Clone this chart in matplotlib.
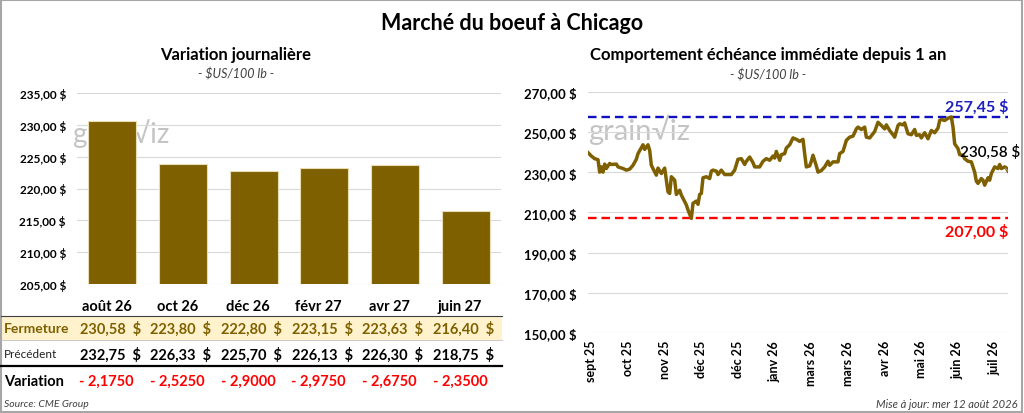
import matplotlib
matplotlib.use("Agg")
import matplotlib.pyplot as plt
from matplotlib.transforms import blended_transform_factory
from matplotlib.patches import Rectangle
from matplotlib.lines import Line2D

plt.rcParams['font.family'] = ['Lato', 'DejaVu Sans']

# --- donnees : variation journaliere ---
echeances = ['août 26', 'oct 26', 'déc 26', 'févr 27', 'avr 27', 'juin 27']
fermeture = [230.58, 223.80, 222.80, 223.15, 223.63, 216.40]
precedent = [232.75, 226.33, 225.70, 226.13, 226.30, 218.75]
variation = [-2.1750, -2.5250, -2.9000, -2.9750, -2.6750, -2.3500]

# --- donnees : echeance immediate depuis 1 an (jour de bourse, prix) ---
jours = [0, 2, 4, 6, 7, 8, 9, 10, 11, 13, 14, 17, 18, 21, 23, 25, 27, 29, 30, 33,
         34, 36, 37, 38, 41, 42, 44, 46, 48, 49, 50, 52, 53, 55, 56, 58, 59, 60, 62, 63,
         65, 66, 67, 68, 69, 71, 73, 74, 75, 77, 78, 80, 82, 86, 88, 90, 92, 94, 95, 97,
         99, 100, 103, 105, 107, 109, 111, 112, 113, 115, 116, 118, 119, 121, 123, 125, 127, 129, 130, 131,
         133, 134, 135, 137, 138, 140, 142, 144, 145, 147, 150, 151, 153, 155, 157, 159, 161, 162, 164, 166,
         167, 169, 172, 174, 176, 178, 179, 181, 183, 184, 186, 187, 189, 190, 192, 194, 196, 197, 199, 200,
         202, 204, 206, 208, 210, 211, 212, 214, 216, 218, 219, 220, 222, 223, 225, 226, 228, 230, 232, 233,
         234, 236, 237, 238, 240, 241, 242, 244, 246, 247, 248, 250, 251, 252]
prix = [239.7, 238.0, 236.7, 236.2, 230.0, 232.6, 230.0, 234.0, 231.8, 234.3, 233.8, 234.0, 232.6, 231.8, 231.0, 231.5, 233.4, 236.4, 239.2, 243.6,
        241.3, 243.6, 240.8, 233.4, 228.5, 232.0, 229.3, 232.0, 220.2, 219.4, 227.7, 226.0, 218.9, 221.0, 218.6, 215.3, 213.7, 211.2, 207.0, 214.5,
        215.6, 214.0, 218.9, 219.4, 227.2, 227.7, 226.8, 230.5, 231.0, 230.5, 228.8, 231.0, 228.8, 228.8, 231.0, 236.4, 236.7, 233.8, 235.4, 237.5,
        234.7, 232.6, 232.6, 235.4, 236.7, 235.9, 238.0, 237.0, 240.3, 235.9, 238.7, 239.2, 242.0, 243.6, 247.0, 246.3, 245.3, 246.3, 239.2, 232.6,
        233.1, 235.4, 238.4, 233.1, 230.0, 230.8, 232.6, 235.4, 233.4, 235.1, 235.1, 239.2, 240.3, 245.8, 247.4, 247.9, 251.5, 252.4, 251.2, 252.4,
        247.4, 247.0, 250.2, 254.8, 253.2, 251.5, 253.5, 250.7, 248.6, 247.4, 253.2, 254.0, 253.5, 254.5, 249.1, 248.6, 251.2, 248.3, 248.6, 247.0,
        249.6, 246.6, 250.7, 249.6, 251.9, 255.7, 256.2, 255.7, 256.8, 257.45, 252.4, 244.1, 241.7, 238.7, 238.4, 236.7, 235.4, 235.1, 230.0, 225.5,
        224.4, 226.8, 226.0, 223.5, 227.2, 226.0, 229.3, 232.6, 231.8, 233.8, 231.8, 232.6, 232.1, 230.58]
mois_labels = ['sept 25', 'oct 25', 'nov 25', 'déc 25', 'déc 25', 'janv 26',
               'mars 26', 'mars 26', 'avr 26', 'mai 26', 'juin 26', 'juil 26']
plus_haut = 257.45
plus_bas = 207.00

OLIVE = '#7F6000'
GRID = '#D9D9D9'
W, H = 1024, 414


def fx(p):
    return p / W


def fy(p):
    return 1 - p / H


def prix_fmt(v):
    return f"{v:.2f}".replace('.', ',') + ' $'


fig = plt.figure(figsize=(W / 100, H / 100), dpi=100)

# titres
fig.text(0.5, fy(23), 'Marché du boeuf à Chicago', ha='center', va='center',
         fontsize=15.5, fontweight='bold')
fig.text(fx(236), fy(55), 'Variation journalière', ha='center', va='center',
         fontsize=12, fontweight='bold')
fig.text(fx(236), fy(74), '- $US/100 lb -', ha='center', va='center',
         fontsize=9, style='italic', color='#404040')
fig.text(fx(768), fy(55), 'Comportement échéance immédiate depuis 1 an', ha='center',
         va='center', fontsize=12, fontweight='bold')
fig.text(fx(768), fy(75), '- $US/100 lb -', ha='center', va='center',
         fontsize=9, style='italic', color='#404040')

# ---------------- graphique a barres ----------------
ax1 = fig.add_axes([fx(77), fy(285), (501 - 77) / W, (285 - 94) / H])
x = range(len(echeances))
ax1.bar(x, fermeture, width=0.68, color=OLIVE, edgecolor='#E8DDB5', linewidth=0.8, zorder=3)
ax1.set_xlim(-0.5, len(echeances) - 0.5)
ax1.set_ylim(205, 235)
ax1.set_yticks(range(205, 236, 5))
ax1.set_yticklabels([prix_fmt(v) for v in range(205, 236, 5)], fontsize=8.5, fontweight='bold')
ax1.set_xticks([])
ax1.tick_params(axis='y', length=0, pad=8)
ax1.grid(axis='y', color=GRID, linewidth=0.8, zorder=0)
for s in ax1.spines.values():
    s.set_visible(False)
ax1.text(fx(72), fy(143), 'grain√iz', transform=fig.transFigure, fontsize=20,
         color='#C4C4C4', zorder=1)

tr = blended_transform_factory(ax1.transData, fig.transFigure)

# tableau sous le graphique
fig.add_artist(Rectangle((fx(1), fy(341)), fx(502) - fx(1), (341 - 317) / H,
                         transform=fig.transFigure, facecolor='#FFF2CC', edgecolor='none', zorder=0))
fig.add_artist(Line2D([fx(1), fx(502)], [fy(317), fy(317)], color='#404040', lw=0.8))
fig.add_artist(Line2D([fx(1), fx(502)], [fy(341), fy(341)], color='#BFBFBF', lw=0.6))
fig.add_artist(Line2D([fx(1), fx(502)], [fy(367), fy(367)], color='#000000', lw=1.6))

fig.text(fx(4), fy(329), 'Fermeture', va='center', fontsize=10, fontweight='bold', color=OLIVE)
fig.text(fx(4), fy(355), 'Précédent', va='center', fontsize=8.5, color='#202020')
fig.text(fx(4), fy(382), 'Variation', va='center', fontsize=10.5, fontweight='bold')
decal = -0.08  # les cellules du tableau sont un peu a gauche des barres
for i in x:
    ax1.text(i + decal, fy(307), echeances[i], transform=tr, ha='center', va='center',
             fontsize=10.5, fontweight='bold', clip_on=False)
    ax1.text(i - 0.03, fy(329), prix_fmt(fermeture[i]).replace(' $', '  $'), transform=tr,
             ha='center', va='center', fontsize=10.5, fontweight='bold', color=OLIVE, clip_on=False)
    ax1.text(i - 0.03, fy(355), prix_fmt(precedent[i]).replace(' $', '  $'), transform=tr,
             ha='center', va='center', fontsize=10.5, fontweight='bold', clip_on=False)
    ax1.text(i + decal, fy(382), '- ' + f"{abs(variation[i]):.4f}".replace('.', ','), transform=tr,
             ha='center', va='center', fontsize=10.5, fontweight='bold', color='#FF0000', clip_on=False)

fig.text(fx(4), fy(405), 'Source: CME Group', va='center', fontsize=7.5, style='italic', color='#404040')

# ---------------- courbe echeance immediate ----------------
ax2 = fig.add_axes([fx(588), fy(334), (1008 - 588) / W, (334 - 92.7) / H])
ax2.text(fx(588), fy(140), 'grain√iz', transform=fig.transFigure, fontsize=21,
         color='#C4C4C4', zorder=1)
ax2.plot(jours, prix, color=OLIVE, lw=2.5, zorder=4, solid_joinstyle='round')
ax2.axhline(plus_haut, color='#1010C0', lw=1.7, ls=(0, (3.6, 2.1)), zorder=3)
ax2.axhline(plus_bas, color='#FF0000', lw=1.7, ls=(0, (3.6, 2.1)), zorder=3)
ax2.set_xlim(0, jours[-1])
ax2.set_ylim(150, 270)
ax2.set_yticks(range(150, 271, 20))
ax2.set_yticklabels([prix_fmt(v) for v in range(150, 271, 20)], fontsize=9.5, fontweight='bold')
ax2.set_xticks(range(2, jours[-1] + 1, 22))
ax2.set_xticklabels(mois_labels, rotation=90, fontsize=9, fontweight='bold')
ax2.tick_params(axis='y', length=0, pad=8)
ax2.tick_params(axis='x', length=0, pad=5)
ax2.grid(axis='y', color=GRID, linewidth=0.8, zorder=0)
for s in ax2.spines.values():
    s.set_visible(False)

ax2.text(1.0, plus_haut + 1.8, prix_fmt(plus_haut), transform=ax2.get_yaxis_transform(),
         ha='right', va='bottom', fontsize=11.5, fontweight='bold', color='#1F1FBF')
ax2.text(1.0, plus_bas - 2.5, prix_fmt(plus_bas), transform=ax2.get_yaxis_transform(),
         ha='right', va='top', fontsize=11.5, fontweight='bold', color='#FF0000')
ax2.annotate(prix_fmt(prix[-1]), xy=(jours[-1], prix[-1]), xytext=(241, 240.2),
             ha='center', va='center', fontsize=11, fontweight='semibold', zorder=5,
             annotation_clip=False,
             arrowprops=dict(arrowstyle='-', color='#A6A6A6', lw=0.6, shrinkA=6, shrinkB=3))

fig.text(fx(1017), fy(405), 'Mise à jour: mer 12 août 2026', ha='right', va='center',
         fontsize=8, style='italic', color='#404040')

fig.add_artist(Rectangle((0.001, 0.002), 0.997, 0.996, transform=fig.transFigure,
                         fill=False, edgecolor='#A6A6A6', lw=1.5))

fig.savefig('out.png', dpi=100)
